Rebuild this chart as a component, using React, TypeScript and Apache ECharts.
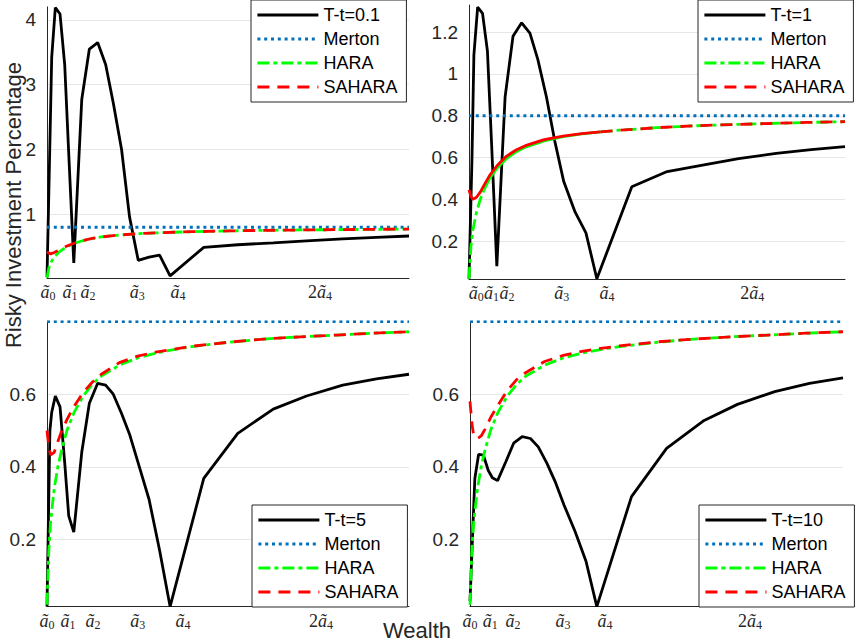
import React, { useEffect, useRef } from 'react';
import * as echarts from 'echarts';

// Wealth grid (0 = ã0 at the left edge, 100 = right edge of each panel)
const WEALTH = [0, 0.8, 1.3, 2.3, 3.6, 4.9, 6.0, 7.4, 9.6, 11.7, 14.0, 16.2, 18.3, 20.6, 22.8, 25.2, 28.2, 31.1, 34.0, 43.3, 52.7, 62.5, 71.7, 81.7, 91, 100];

// Risky investment percentage of the solution for each time to maturity
const BLACK_TL = [0.03, 2.1, 3.42, 4.19, 4.09, 3.3, 1.94, 0.25, 2.77, 3.55, 3.65, 3.31, 2.72, 2.0, 0.96, 0.29, 0.34, 0.37, 0.05, 0.49, 0.53, 0.56, 0.59, 0.62, 0.645, 0.665];
const BLACK_TR = [0.02, 0.6, 1.09, 1.32, 1.29, 1.11, 0.67, 0.08, 0.89, 1.18, 1.245, 1.195, 1.07, 0.89, 0.68, 0.485, 0.34, 0.24, 0.02, 0.46, 0.533, 0.565, 0.595, 0.62, 0.638, 0.652];
const BLACK_BL = [0.015, 0.5, 0.55, 0.595, 0.565, 0.41, 0.265, 0.22, 0.44, 0.575, 0.63, 0.625, 0.6, 0.547, 0.49, 0.41, 0.31, 0.17, 0.015, 0.368, 0.492, 0.559, 0.595, 0.625, 0.642, 0.655];
const BLACK_BR = [0.03, 0.24, 0.368, 0.434, 0.432, 0.39, 0.37, 0.362, 0.414, 0.465, 0.483, 0.478, 0.455, 0.41, 0.36, 0.295, 0.221, 0.14, 0.015, 0.318, 0.451, 0.526, 0.572, 0.607, 0.63, 0.645];

// HARA / SAHARA curves
const HARA_X = [0, 0.5, 1, 2, 3, 4, 5.5, 7.5, 10, 12.5, 15, 20, 25, 30, 35, 40, 50, 60, 70, 80, 90, 100];
const HARA = [0.02, 0.17, 0.25, 0.34, 0.4, 0.445, 0.5, 0.55, 0.595, 0.627, 0.65, 0.68, 0.7, 0.713, 0.723, 0.731, 0.743, 0.752, 0.758, 0.763, 0.768, 0.772];
const SAHARA_TL = [0.42, 0.4, 0.39, 0.41, 0.44, 0.47, 0.51, 0.553, 0.597, 0.628, 0.65, 0.68, 0.7, 0.713, 0.723, 0.731, 0.743, 0.752, 0.758, 0.763, 0.768, 0.772];
const SAHARA_TR = [0.445, 0.415, 0.4, 0.41, 0.435, 0.468, 0.515, 0.562, 0.607, 0.636, 0.657, 0.686, 0.703, 0.715, 0.723, 0.731, 0.743, 0.752, 0.758, 0.763, 0.768, 0.772];
const SAHARA_BL = [0.5, 0.455, 0.433, 0.44, 0.47, 0.497, 0.53, 0.567, 0.605, 0.633, 0.655, 0.687, 0.705, 0.716, 0.724, 0.732, 0.743, 0.752, 0.758, 0.763, 0.768, 0.772];
const SAHARA_BR = [0.58, 0.52, 0.485, 0.478, 0.485, 0.503, 0.535, 0.57, 0.61, 0.64, 0.66, 0.69, 0.707, 0.718, 0.726, 0.733, 0.744, 0.752, 0.758, 0.763, 0.768, 0.772];
const MERTON = 0.8;

const SERIES_NAMES = ['T-t=0.1', 'T-t=1', 'T-t=5', 'T-t=10'];
const LEGEND_OTHERS = ['Merton', 'HARA', 'SAHARA'];

// x tick labels and their positions in each panel
const TICK_LABELS = ['ã_0', 'ã_1', 'ã_2', 'ã_3', 'ã_4', '2ã_4'];
const TICKS_TL = [0.3, 6.35, 11.3, 24.9, 36.2, 75.4];
const TICKS_TR = [1.9, 6.0, 10.1, 24.7, 36.7, 75.3];
const TICKS_BL = [0, 5.8, 12.7, 25.1, 37.6, 75.7];
const TICKS_BR = [0, 5.4, 11.5, 24.9, 36.2, 75.1];

// y ticks and ranges
const Y_TICKS_TL = [1, 2, 3, 4];
const Y_TICKS_TR = [0.2, 0.4, 0.6, 0.8, 1, 1.2];
const Y_TICKS_B = [0.2, 0.4, 0.6];
const Y_RANGE_TL = [0.02, 4.2];
const Y_RANGE_TR = [0.02, 1.33];
const Y_RANGE_B = [0.015, 0.8];

const SANS = "'Liberation Sans', Arial, Helvetica, sans-serif";
const SERIF = "'Liberation Serif', 'DejaVu Serif', serif";
const AXIS_COLOR = '#262626';
const LW = 2.8;

const zip = (xs: number[], ys: number[]) => xs.map((x, i) => [x, ys[i]]);

const toRich = (s: string) =>
  s.replace(/^(\d*)ã_(\d)$/, (_m, n, d) => (n ? `{n|${n}}` : '') + `{a|ã}{s|${d}}`);

const blackStyle = { color: '#000000', width: LW };
const mertonStyle = { color: '#0072BD', width: LW, type: [3, 3.8], cap: 'butt' };
const haraStyle = { color: '#00FF00', width: LW, type: [12, 4, 4, 4], cap: 'butt' };
const haraSolid = { color: '#00FF00', width: LW, type: 'solid' };
const saharaStyle = { color: '#FF0000', width: LW, type: [12, 8], cap: 'butt' };
const saharaSolid = { color: '#FF0000', width: LW, type: 'solid' };

const panels = [
  { name: SERIES_NAMES[0], black: BLACK_TL, sahara: SAHARA_TL, ticks: TICKS_TL, yTicks: Y_TICKS_TL, yRange: Y_RANGE_TL,
    grid: { left: 47, top: 6.9, width: 362, height: 270.9 }, legend: { left: 251, top: 0 }, solidPart: false },
  { name: SERIES_NAMES[1], black: BLACK_TR, sahara: SAHARA_TR, ticks: TICKS_TR, yTicks: Y_TICKS_TR, yRange: Y_RANGE_TR,
    grid: { left: 469, top: 5, width: 376, height: 273.8 }, legend: { left: 698, top: 0 }, solidPart: true },
  { name: SERIES_NAMES[2], black: BLACK_BL, sahara: SAHARA_BL, ticks: TICKS_BL, yTicks: Y_TICKS_B, yRange: Y_RANGE_B,
    grid: { left: 47, top: 321.6, width: 362, height: 285 }, legend: { left: 252, top: 505 }, solidPart: false },
  { name: SERIES_NAMES[3], black: BLACK_BR, sahara: SAHARA_BR, ticks: TICKS_BR, yTicks: Y_TICKS_B, yRange: Y_RANGE_B,
    grid: { left: 470, top: 321.6, width: 373, height: 285 }, legend: { left: 699, top: 505 }, solidPart: false },
];

function buildOption() {
  const grid: any[] = [];
  const xAxis: any[] = [];
  const yAxis: any[] = [];
  const legend: any[] = [];
  const series: any[] = [];

  panels.forEach((p, i) => {
    grid.push({ ...p.grid, containLabel: false, outerBoundsMode: 'none' });
    xAxis.push({
      type: 'value', gridIndex: i, min: 0, max: 100,
      axisLine: { show: true, onZero: false, lineStyle: { color: AXIS_COLOR, width: 1 } },
      axisTick: { show: false, customValues: p.ticks },
      splitLine: { show: false },
      axisLabel: {
        customValues: p.ticks,
        margin: 4,
        hideOverlap: false,
        formatter: (v: number) => {
          const k = p.ticks.findIndex((t) => Math.abs(t - v) < 1e-6);
          return k >= 0 ? toRich(TICK_LABELS[k]) : '';
        },
        rich: {
          a: { fontFamily: SERIF, fontStyle: 'italic', fontSize: 18, lineHeight: 20, color: AXIS_COLOR },
          n: { fontFamily: SERIF, fontSize: 18, lineHeight: 20, color: AXIS_COLOR },
          s: { fontFamily: SERIF, fontSize: 12, lineHeight: 10, verticalAlign: 'bottom', color: AXIS_COLOR },
        },
      },
    });
    yAxis.push({
      type: 'value', gridIndex: i, min: p.yRange[0], max: p.yRange[1],
      axisLine: { show: true, onZero: false, lineStyle: { color: AXIS_COLOR, width: 1 } },
      axisTick: { show: false, customValues: p.yTicks },
      splitLine: { show: true, lineStyle: { color: '#e6e6e6', width: 1.2 } },
      axisLabel: { customValues: p.yTicks, margin: 11, fontSize: 19, color: AXIS_COLOR, fontFamily: SANS },
    });
    legend.push({
      ...p.legend,
      orient: 'vertical',
      data: [p.name, ...LEGEND_OTHERS],
      itemWidth: 61, itemHeight: 14, itemGap: 6,
      padding: [6, 9, 6, 5],
      borderColor: AXIS_COLOR, borderWidth: 1, borderRadius: 0,
      backgroundColor: '#ffffff',
      selectedMode: false,
      textStyle: { fontSize: 18, color: '#000000', fontFamily: SANS },
      itemStyle: { opacity: 0 },
      lineStyle: { width: LW },
    });

    const common = { type: 'line', xAxisIndex: i, yAxisIndex: i, symbol: 'none', showSymbol: false, silent: true };
    series.push({ ...common, name: p.name, data: zip(WEALTH, p.black), lineStyle: blackStyle });
    series.push({
      ...common, name: 'Merton',
      data: [[WEALTH[0], MERTON], [WEALTH[WEALTH.length - 1], MERTON]], lineStyle: mertonStyle,
    });
    const hd = zip(HARA_X, HARA);
    const sd = zip(HARA_X, p.sahara);
    if (p.solidPart) {
      const a = HARA_X.indexOf(4);
      const b = HARA_X.indexOf(35);
      series.push({ ...common, name: 'HARA', data: hd.slice(0, a + 1), lineStyle: haraStyle });
      series.push({ ...common, name: 'HARA-solid', data: hd.slice(a, b + 1), lineStyle: haraSolid });
      series.push({ ...common, name: 'HARA', data: hd.slice(b), lineStyle: haraStyle });
      series.push({ ...common, name: 'SAHARA-solid', data: sd.slice(0, b + 1), lineStyle: saharaSolid });
      series.push({ ...common, name: 'SAHARA', data: sd.slice(b), lineStyle: saharaStyle });
    } else {
      series.push({ ...common, name: 'HARA', data: hd, lineStyle: haraStyle });
      series.push({ ...common, name: 'SAHARA', data: sd, lineStyle: saharaStyle });
    }
  });

  return {
    animation: false,
    backgroundColor: '#ffffff',
    textStyle: { fontFamily: SANS },
    grid, xAxis, yAxis, legend, series,
    graphic: [
      {
        type: 'text', x: 13, y: 205, rotation: Math.PI / 2,
        style: { text: 'Risky Investment Percentage', fontSize: 22, fontFamily: SANS, fill: AXIS_COLOR, align: 'center', verticalAlign: 'middle' },
      },
      {
        type: 'text', x: 417, y: 630,
        style: { text: 'Wealth', fontSize: 22, fontFamily: SANS, fill: AXIS_COLOR, align: 'center', verticalAlign: 'middle' },
      },
    ],
  };
}

export default function App() {
  const ref = useRef<HTMLDivElement>(null);
  useEffect(() => {
    if (!ref.current) return;
    const chart = echarts.init(ref.current, null, { renderer: 'svg' });
    chart.setOption(buildOption() as any);
    return () => chart.dispose();
  }, []);
  return (
    <div
      ref={ref}
      style={{ position: 'fixed', left: 0, top: 0, width: 857, height: 643, background: '#ffffff' }}
    />
  );
}
